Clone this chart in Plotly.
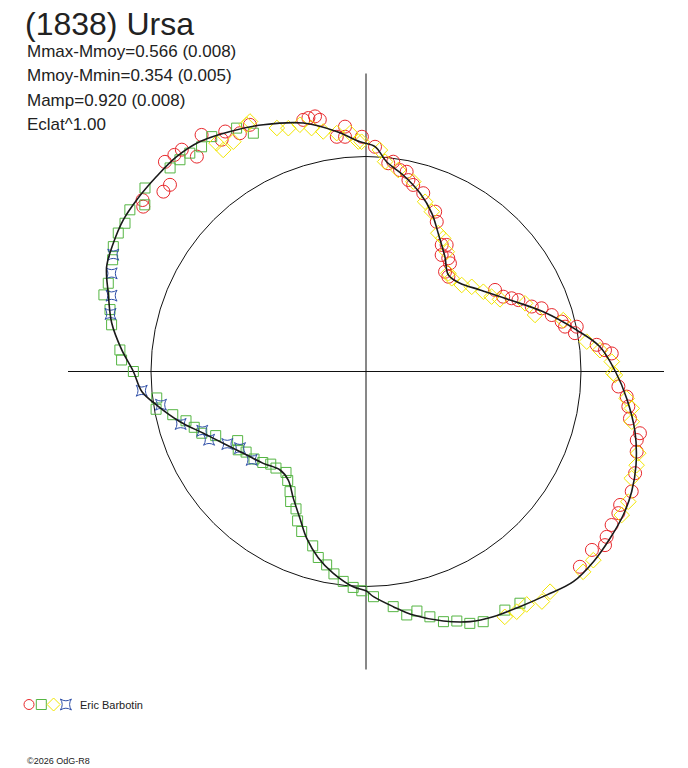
import plotly.graph_objects as go

# the page has an 8 px body margin, so the figure is drawn 8 px smaller
# and all page positions below are given in window pixels
PAGE_W, PAGE_H, OFF = 688, 768, 8
W, H = PAGE_W - OFF, PAGE_H - OFF

# fitted model curve: phase angle (deg, counterclockwise from +x) and radius (mean = 1)
fit_theta = [-174.9, -170.9, -164.9, -159.2, -152.2, -145.0, -138.2, -131.1, -125.6, -119.8,
             -114.2, -109.6, -104.4, -99.2, -93.4, -90.0, -88.1, -83.4, -79.0, -72.8,
             -67.4, -62.6, -56.8, -51.0, -45.4, -39.9, -34.4, -29.1, -24.3, -19.1,
             -12.6, -5.9, 0.0, 6.05, 11.1, 18.6, 26.4, 35.6, 43.2, 49.5,
             55.5, 62.4, 67.4, 73.1, 79.3, 84.4, 87.7, 91.5, 97.0, 104.2,
             112.6, 119.5, 125.8, 131.4, 137.0, 143.2, 148.0, 153.1, 158.0, 163.1,
             169.2, 174.9, 180.0]
fit_r = [1.047, 0.986, 0.896, 0.809, 0.733, 0.677, 0.641, 0.608, 0.621, 0.680,
         0.749, 0.823, 0.894, 0.951, 1.003, 1.020, 1.048, 1.101, 1.154, 1.215,
         1.260, 1.285, 1.307, 1.337, 1.373, 1.379, 1.375, 1.370, 1.356, 1.329,
         1.282, 1.219, 1.160, 1.094, 0.999, 0.870, 0.748, 0.652, 0.600, 0.590,
         0.648, 0.725, 0.797, 0.866, 0.930, 0.980, 1.047, 1.069, 1.125, 1.192,
         1.243, 1.283, 1.319, 1.332, 1.331, 1.332, 1.331, 1.318, 1.301, 1.253,
         1.204, 1.141, 1.082]

red_theta = [133.8, 131.5, 129.7, 128.2, 124.8, 121.9, 120.4, 117.9, 115.2, 136.4,
             138.4, 143.5, 142.5, 104.0, 102.8, 101.3, 100.4, 97.1, 94.9, 95.1,
             91.0, 87.7, 83.9, 82.6, 80.4, 78.5, 77.5, 75.8, 72.2, 66.6,
             64.7, 59.1, 57.5, 57.0, 54.0, 52.2, 51.6, 49.0, 32.3, 28.6,
             26.7, 25.1, 21.4, 19.8, 16.9, 14.3, 12.7, 12.0, 10.4, 6.6,
             5.1, 4.2, -3.4, -5.5, -7.6, -10.1, -12.7, -14.2, -16.5, -20.7,
             -19.2, -24.3, -25.4, -27.7, -29.3, -32.0, -34.5, -36.0, -38.3, -42.4,
             -40.2]
red_r = [1.351, 1.345, 1.341, 1.272, 1.340, 1.270, 1.294, 1.254, 1.268, 1.259,
         1.260, 1.289, 1.310, 1.206, 1.209, 1.210, 1.190, 1.100, 1.143, 1.096,
         1.092, 1.046, 0.974, 0.984, 0.950, 0.948, 0.912, 0.895, 0.871, 0.810,
         0.770, 0.686, 0.698, 0.646, 0.651, 0.637, 0.592, 0.584, 0.710, 0.727,
         0.758, 0.783, 0.828, 0.868, 0.903, 0.939, 0.949, 1.002, 0.988, 1.080,
         1.116, 1.146, 1.176, 1.218, 1.231, 1.247, 1.306, 1.299, 1.313, 1.338,
         1.391, 1.356, 1.411, 1.335, 1.346, 1.347, 1.358, 1.374, 1.339, 1.347,
         1.394]

yellow_theta = [123.2, 120.0, 122.8, 115.8, 114.9, 110.1, 107.7, 105.0, 102.6, 100.1,
                97.0, 93.8, 91.9, 91.1, 86.4, 84.8, 80.9, 76.0, 70.8, 67.6,
                62.4, 59.9, 56.0, 50.0, 47.4, 42.1, 38.7, 34.2, 30.8, 28.3,
                23.2, 18.5, 14.6, 7.7, 5.2, 2.3, -0.8, -0.4, -5.9, -7.9,
                -10.7, -16.7, -19.1, -21.9, -26.4, -29.3, -32.0, -34.3, -37.0, -39.7,
                -42.7, -45.2, -50.1, -52.6, -55.4, -57.9, -60.5]
yellow_r = [1.269, 1.234, 1.226, 1.275, 1.282, 1.206, 1.188, 1.188, 1.160, 1.134,
            1.117, 1.111, 1.070, 1.069, 1.032, 0.980, 0.949, 0.910, 0.836, 0.804,
            0.726, 0.716, 0.672, 0.596, 0.589, 0.600, 0.630, 0.660, 0.680, 0.708,
            0.805, 0.829, 0.948, 1.036, 1.093, 1.144, 1.158, 1.150, 1.219, 1.248,
            1.258, 1.322, 1.332, 1.332, 1.362, 1.364, 1.393, 1.392, 1.392, 1.374,
            1.374, 1.400, 1.335, 1.347, 1.316, 1.319, 1.311]

green_theta = [123.3, 118.0, 115.3, 126.2, 128.9, 131.3, 133.9, 140.3, 143.0, 145.6,
               148.4, 150.8, 153.7, 156.2, 161.1, 163.7, 166.4, 169.6, 175.0, 177.3,
               180.0, -172.8, -169.8, -167.4, -164.7, -162.0, -159.4, -156.9, -151.7, -148.5,
               -146.1, -142.0, -138.6, -135.8, -133.0, -128.4, -125.7, -122.3, -120.1, -117.0,
               -114.6, -111.9, -107.0, -104.4, -101.5, -99.0, -96.2, -93.4, -91.1, -88.1,
               -83.4, -80.5, -78.0, -75.4, -72.8, -70.0, -67.6, -64.9, -59.8, -56.4]
green_r = [1.307, 1.282, 1.226, 1.295, 1.305, 1.311, 1.314, 1.336, 1.288, 1.331,
           1.316, 1.320, 1.311, 1.288, 1.267, 1.270, 1.225, 1.203, 1.149, 1.138,
           1.082, 0.981, 0.992, 0.921, 0.868, 0.840, 0.816, 0.760, 0.678, 0.697,
           0.672, 0.661, 0.640, 0.618, 0.614, 0.599, 0.624, 0.661, 0.699, 0.717,
           0.764, 0.802, 0.848, 0.893, 0.918, 0.953, 0.982, 1.006, 1.020, 1.048,
           1.101, 1.148, 1.139, 1.179, 1.218, 1.235, 1.267, 1.285, 1.284, 1.294]

blue_theta = [155.2, 158.9, 163.4, 167.3, -175.1, -170.8, -164.2, -160.1, -156.5, -152.4,
              -148.7, -142.3]
blue_r = [1.295, 1.268, 1.235, 1.218, 1.047, 0.966, 0.896, 0.810, 0.796, 0.728,
          0.686, 0.672]

title = "(1838) Ursa"
stats = ["Mmax-Mmoy=0.566 (0.008)", "Mmoy-Mmin=0.354 (0.005)",
         "Mamp=0.920 (0.008)", "Eclat^1.00"]
observer = "Eric Barbotin"
credit = "\u00a92026 OdG-R8"

series = [
    (red_theta, red_r, "circle-open", 13, "#e8282c"),
    (green_theta, green_r, "square-open", 10, "#55b543"),
    (yellow_theta, yellow_r, "diamond-open", 12, "#f2e600"),
    (blue_theta, blue_r, "star-square-open", 10, "#2f4fa8"),
]


def px(x):
    return (x - OFF) / W


def py(y):
    return 1 - (y - OFF) / H


fig = go.Figure()
for th, r, sym, size, col in series:
    fig.add_trace(go.Scatterpolar(
        theta=th, r=r, mode="markers", cliponaxis=False, showlegend=False,
        marker=dict(symbol=sym, size=size, color=col, line=dict(color=col, width=1)),
    ))

fig.add_trace(go.Scatterpolar(
    theta=fit_theta + fit_theta[:1], r=fit_r + fit_r[:1], mode="lines",
    line=dict(color="#1a1a1a", width=1.6, shape="spline"), showlegend=False,
))

# legend row: one symbol per series
fig.add_trace(go.Scatter(
    x=list(range(len(series))), y=[0] * len(series), mode="markers",
    xaxis="x", yaxis="y", showlegend=False, hoverinfo="skip",
    marker=dict(symbol=[s[2] for s in series], size=10,
                color=[s[4] for s in series],
                line=dict(color=[s[4] for s in series], width=1)),
))

cx, cy, R = 366, 371.5, 298
fig.update_layout(
    width=W, height=H,
    margin=dict(l=0, r=0, t=0, b=0),
    paper_bgcolor="white", plot_bgcolor="white",
    font=dict(family="Liberation Sans, Arial, sans-serif", color="#222"),
    title=dict(text=title, x=px(25), xanchor="left", xref="container",
               y=py(24), yanchor="middle", yref="container",
               font=dict(size=32, color="#222")),
    polar=dict(
        domain=dict(x=[px(cx - R), px(cx + R)], y=[py(cy + R), py(cy - R)]),
        bgcolor="white",
        radialaxis=dict(range=[0, 1.386], tickvals=[1], showticklabels=False,
                        ticks="", showline=False, gridcolor="#111", gridwidth=1),
        angularaxis=dict(tickvals=[0, 90, 180, 270], showticklabels=False,
                         ticks="", showline=False, gridcolor="#111", gridwidth=1),
    ),
    xaxis=dict(domain=[px(20), px(80)], range=[(20 - 29) / 12.3, (80 - 29) / 12.3],
               visible=False, fixedrange=True),
    yaxis=dict(domain=[py(715), py(694)], range=[-1, 1], visible=False, fixedrange=True),
)

ann = []
for i, s in enumerate(stats):
    ann.append(dict(text=s, x=px(25), y=py(51 + 24.5 * i), font=dict(size=17)))
ann.append(dict(text=observer, x=px(78), y=py(705), font=dict(size=11)))
ann.append(dict(text=credit, x=px(25), y=py(761), font=dict(size=9)))
for a in ann:
    a.update(xref="paper", yref="paper", xanchor="left", yanchor="middle",
             showarrow=False)
fig.update_layout(annotations=ann)

fig.write_html("out.html")
